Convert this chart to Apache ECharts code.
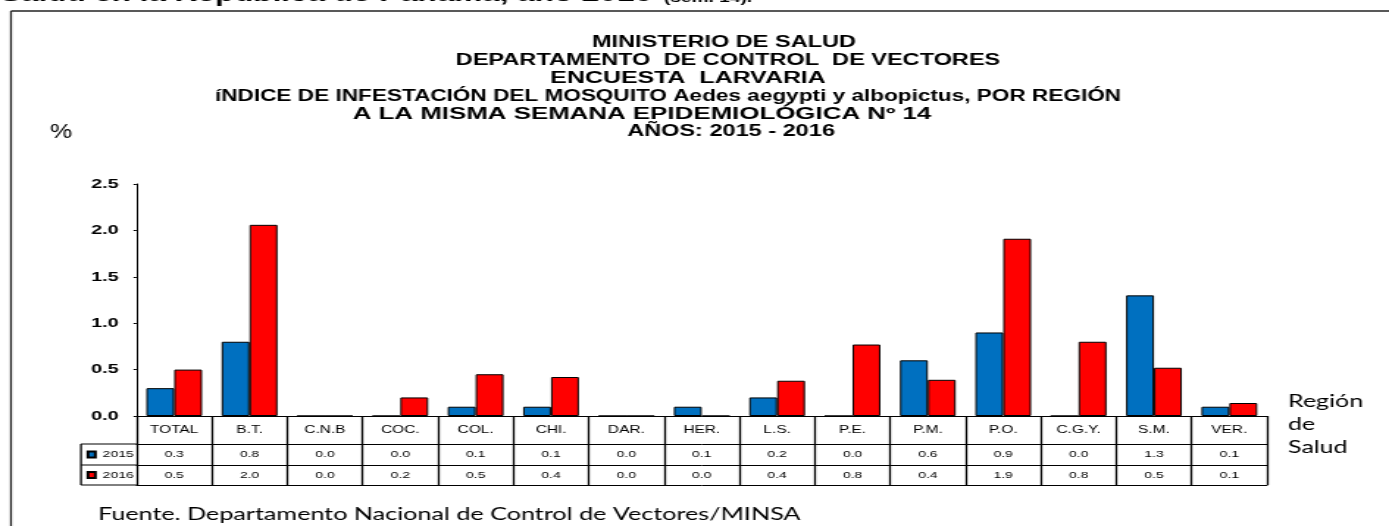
<!DOCTYPE html>
<html><head><meta charset="utf-8">
<script src="https://cdn.jsdelivr.net/npm/echarts@6/dist/echarts.min.js"></script>
<style>
html,body{margin:0;padding:0;background:#fff;overflow:hidden;width:1389px;height:526px;}
#chart{width:945px;height:526px;transform:scaleX(1.469841);transform-origin:0 0;}
</style></head><body><div id="chart"></div>
<script>
// ---- data ----
const categories = ['TOTAL','B.T.','C.N.B','COC.','COL.','CHI.','DAR.','HER.','L.S.','P.E.','P.M.','P.O.','C.G.Y.','S.M.','VER.'];
const values2015 = [0.3, 0.8, 0, 0, 0.1, 0.1, 0, 0.1, 0.2, 0, 0.6, 0.9, 0, 1.3, 0.1];
const values2016 = [0.5, 2.06, 0, 0.2, 0.45, 0.42, 0, 0, 0.38, 0.77, 0.39, 1.91, 0.8, 0.52, 0.14];
const table2015 = ['0.3','0.8','0.0','0.0','0.1','0.1','0.0','0.1','0.2','0.0','0.6','0.9','0.0','1.3','0.1'];
const table2016 = ['0.5','2.0','0.0','0.2','0.5','0.4','0.0','0.0','0.4','0.8','0.4','1.9','0.8','0.5','0.1'];
const seriesNames = ['2015','2016'];
const yMin = 0, yMax = 2.5, yStep = 0.5;
const titleLines = [
  'MINISTERIO DE SALUD',
  'DEPARTAMENTO  DE CONTROL  DE VECTORES',
  'ENCUESTA  LARVARIA',
  'íNDICE DE INFESTACIÓN DEL MOSQUITO Aedes aegypti y albopictus, POR REGIÓN',
  'A LA MISMA SEMANA EPIDEMIOLÓGICA Nº 14',
  'AÑOS: 2015 - 2016'
];
const headingText = 'Salud en la República de Panamá, año 2016';
const headingNote = '(sem. 14).';
const yUnit = '%';
const xName = 'Región\nde\nSalud';
const sourceText = 'Fuente. Departamento Nacional de Control de Vectores/MINSA';

// ---- layout ----
const S = 1389 / 945;            // horizontal stretch of the original picture
const X = v => v / S;            // picture x -> canvas x
const FONT = "'Liberation Sans', Arial, sans-serif";
const black = '#000';

const chart = echarts.init(document.getElementById('chart'), null, {renderer: 'canvas'});

const tableAxis = (offset, tickLen, labels, margin, fontSize) => ({
  type: 'category', data: categories, position: 'bottom', offset: offset,
  axisLine: {show: true, lineStyle: {color: black, width: 1}},
  axisTick: {show: tickLen > 0, length: tickLen, lineStyle: {color: black, width: 1.3}},
  axisLabel: {show: !!labels, interval: 0, margin: margin, fontSize: fontSize, color: black, fontFamily: FONT,
    formatter: (v, i) => labels ? labels[i] : ''},
  splitLine: {show: false}
});

// per-line title placement (centre x in picture px, horizontal squeeze)
const titleCentres = [724, 728, 688, 668, 642, 731];
const titleScaleX = [1, 1, 1.06, 0.96, 1.1, 1];
const titleGraphics = titleLines.map((t, i) => ({
  type: 'text', x: X(titleCentres[i]), y: 43 + i * 17.8, scaleX: titleScaleX[i],
  style: {text: t, font: 'bold 16px ' + FONT, fill: black, align: 'center', verticalAlign: 'middle'}
}));

const option = {
  animation: false,
  backgroundColor: '#fff',
  grid: {left: X(136.5), right: 945 - X(1267), top: 184, bottom: 110, containLabel: false},
  legend: {
    data: seriesNames, orient: 'vertical', left: X(86.5), top: 449, padding: 0,
    itemWidth: 5, itemHeight: 6, itemGap: 9.5, icon: 'rect', selectedMode: false,
    textStyle: {fontSize: 9.5, lineHeight: 11, color: black, fontFamily: FONT}
  },
  xAxis: [
    tableAxis(0, 28, categories, 9, 10.5),
    tableAxis(28, 21, table2015, 5.5, 9.5),
    tableAxis(49, 20, table2016, 5.5, 9.5),
    tableAxis(69, 0, null, 0, 9)
  ],
  yAxis: {
    type: 'value', min: yMin, max: yMax, interval: yStep,
    axisLine: {show: true, lineStyle: {color: black, width: 1}},
    axisTick: {show: true, length: 2, lineStyle: {color: black}},
    splitLine: {show: false},
    axisLabel: {formatter: v => v.toFixed(1), fontWeight: 'bold', fontSize: 13.5, margin: 12, color: black, fontFamily: FONT}
  },
  series: [
    {name: seriesNames[0], type: 'bar', xAxisIndex: 0, data: values2015, barWidth: '37%', barGap: '0%',
     itemStyle: {color: '#0070C0', borderColor: black, borderWidth: 1}},
    {name: seriesNames[1], type: 'bar', xAxisIndex: 0, data: values2016, barWidth: '37%', barGap: '0%',
     itemStyle: {color: '#FF0000', borderColor: black, borderWidth: 1}}
  ],
  graphic: [
    // frame
    {type: 'line', shape: {x1: X(11), y1: 11, x2: 945, y2: 11}, style: {stroke: '#222', lineWidth: 1.3}},
    {type: 'line', shape: {x1: X(11), y1: 11, x2: X(11), y2: 526}, style: {stroke: '#222', lineWidth: 1.3}},
    // legend column of the data table
    {type: 'line', shape: {x1: X(81), y1: 444, x2: X(136.5), y2: 444}, style: {stroke: black, lineWidth: 1}},
    {type: 'line', shape: {x1: X(81), y1: 465, x2: X(136.5), y2: 465}, style: {stroke: black, lineWidth: 1}},
    {type: 'line', shape: {x1: X(81), y1: 485, x2: X(136.5), y2: 485}, style: {stroke: black, lineWidth: 1}},
    {type: 'line', shape: {x1: X(81), y1: 444, x2: X(81), y2: 485}, style: {stroke: black, lineWidth: 1.3}},
    // cut-off heading from the page above
    {type: 'text', x: 0, y: -5, style: {text: headingText, font: 'bold 21.4px ' + FONT, fill: black, align: 'left', verticalAlign: 'middle'}},
    {type: 'text', x: X(664), y: -1.5, style: {text: headingNote, font: 'bold 13px ' + FONT, fill: black, align: 'left', verticalAlign: 'middle'}},
    // title
    ...titleGraphics,
    // unit
    {type: 'text', x: X(61), y: 132, scaleX: 0.85, style: {text: yUnit, font: '20px ' + FONT, fill: black, align: 'center', verticalAlign: 'middle'}},
    // x axis name
    {type: 'text', x: X(1288), y: 390, style: {text: xName, font: '17px Lato, sans-serif', lineHeight: 23, fill: black, align: 'left', verticalAlign: 'top'}},
    // source
    {type: 'text', x: X(98), y: 514, scaleX: 0.95, style: {text: sourceText, font: '18px Lato, sans-serif', fill: black, align: 'left', verticalAlign: 'middle'}}
  ]
};
chart.setOption(option);
</script>
</body></html>
